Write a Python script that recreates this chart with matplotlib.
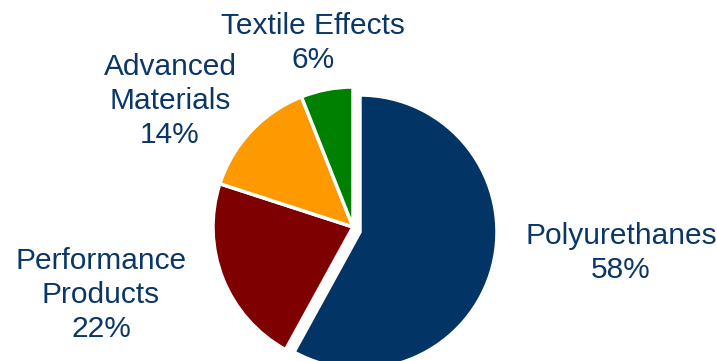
import matplotlib.pyplot as plt

segments = ["Polyurethanes", "Performance\nProducts", "Advanced\nMaterials", "Textile Effects"]
shares = [58, 22, 14, 6]
colors = ["#023466", "#7f0000", "#fe9900", "#008000"]

# label centres in figure pixels (x, y from top)
label_pos = [(621, 253), (101, 295), (170, 101), (313, 43)]

W, H = 717, 361
fig = plt.figure(figsize=(W / 100, H / 100), dpi=100)
plt.rcParams['font.family'] = ['Liberation Sans', 'DejaVu Sans']

cx, cy, r = 353, 227, 140
ax = fig.add_axes([(cx - r) / W, (H - cy - r) / H, 2 * r / W, 2 * r / H])
wedges, _ = ax.pie(shares, colors=colors, startangle=90, counterclock=False,
                   wedgeprops=dict(edgecolor="white", linewidth=2.5))
# pull the big slice out a little
wedges[0].set_center((7 / r, -5 / r))
wedges[0].set_radius(137 / r)
ax.set_xlim(-1, 1)
ax.set_ylim(-1, 1)
ax.set_aspect("equal")
ax.axis("off")

for name, val, (x, y) in zip(segments, shares, label_pos):
    fig.text(x / W, 1 - y / H, f"{name}\n{val}%", ha="center", va="center",
             fontsize=21.5, color="#0b3768", linespacing=1.28)

fig.savefig("out.png", dpi=100)
